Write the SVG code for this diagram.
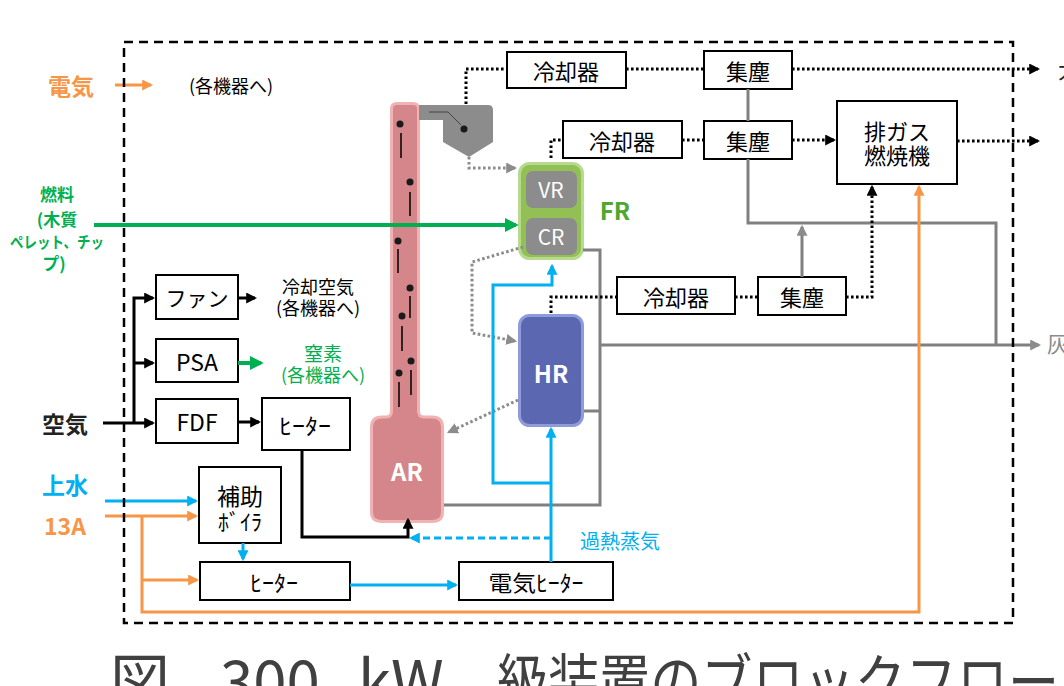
<svg xmlns="http://www.w3.org/2000/svg" width="1064" height="686" viewBox="0 0 1064 686">
<style>
.t{font-family:"Noto Sans CJK JP","Noto Sans",sans-serif;text-anchor:middle;dominant-baseline:central}
.box{fill:#fff;stroke:#000;stroke-width:2}
.k{fill:none;stroke:#000;stroke-width:3}
.kd{fill:none;stroke:#000;stroke-width:3;stroke-dasharray:2.6 2.4}
.g{fill:none;stroke:#808080;stroke-width:3}
.gd{fill:none;stroke:#8c8c8c;stroke-width:3;stroke-dasharray:2.6 2.4}
.gr{fill:none;stroke:#00b050;stroke-width:4}
.o{fill:none;stroke:#f79646;stroke-width:3}
.b{fill:none;stroke:#00b0f0;stroke-width:3}
</style>
<defs>
<marker id="ak" viewBox="0 0 10 10" refX="8" refY="5" markerWidth="11" markerHeight="11" markerUnits="userSpaceOnUse" orient="auto"><path d="M0,0L10,5L0,10z" fill="#000"/></marker>
<marker id="ag" viewBox="0 0 10 10" refX="8" refY="5" markerWidth="11" markerHeight="11" markerUnits="userSpaceOnUse" orient="auto"><path d="M0,0L10,5L0,10z" fill="#8c8c8c"/></marker>
<marker id="agr" viewBox="0 0 10 10" refX="8" refY="5" markerWidth="14" markerHeight="14" markerUnits="userSpaceOnUse" orient="auto"><path d="M0,0L10,5L0,10z" fill="#00b050"/></marker>
<marker id="ao" viewBox="0 0 10 10" refX="8" refY="5" markerWidth="11" markerHeight="11" markerUnits="userSpaceOnUse" orient="auto"><path d="M0,0L10,5L0,10z" fill="#f79646"/></marker>
<marker id="ab" viewBox="0 0 10 10" refX="8" refY="5" markerWidth="11" markerHeight="11" markerUnits="userSpaceOnUse" orient="auto"><path d="M0,0L10,5L0,10z" fill="#00b0f0"/></marker>
</defs>
<rect width="1064" height="686" fill="#fff"/>

<g id="labels">
<text class="t" x="71" y="85" font-size="23" font-weight="bold" fill="#f79646">電気</text>
<text class="t" x="231" y="85" font-size="18" fill="#000">(各機器へ)</text>
<text class="t" x="57" y="193" font-size="17" font-weight="bold" fill="#00b050">燃料</text>
<text class="t" x="57" y="218" font-size="17" font-weight="bold" fill="#00b050">(木質</text>
<text class="t" x="57" y="241" font-size="16" font-weight="bold" fill="#00b050" textLength="94" lengthAdjust="spacingAndGlyphs">ペレット、チッ</text>
<text class="t" x="54" y="262" font-size="17" font-weight="bold" fill="#00b050">プ)</text>
<text class="t" x="65" y="423" font-size="23" font-weight="bold" fill="#222">空気</text>
<text class="t" x="65" y="484" font-size="23" font-weight="bold" fill="#00b0f0">上水</text>
<text class="t" x="65" y="525" font-size="23" font-weight="bold" fill="#f79646">13A</text>
<text class="t" x="318" y="286" font-size="18" fill="#000">冷却空気</text>
<text class="t" x="318" y="307" font-size="18" fill="#000">(各機器へ)</text>
<text class="t" x="323" y="352" font-size="19" fill="#00b050">窒素</text>
<text class="t" x="323" y="374" font-size="18" fill="#00b050">(各機器へ)</text>
<text class="t" x="620" y="540" font-size="20" fill="#00b0f0">過熱蒸気</text>
<text class="t" x="615" y="209" font-size="24" font-weight="bold" fill="#4ea72e">FR</text>
<text x="1047" y="352" font-size="22" fill="#8c8c8c" font-family="Noto Sans CJK JP,sans-serif">灰</text>
<text x="1058" y="78" font-size="22" fill="#222" font-family="Noto Sans CJK JP,sans-serif">大気</text>
</g>

<g id="AR">
<path d="M391.5,109 Q391.5,103.5 397,103.5 H413 Q418.5,103.5 418.5,109 V411 Q418.5,417 424,417 H432 Q442.5,417 442.5,427 V512 Q442.5,521.5 432,521.5 H382 Q371.5,521.5 371.5,512 V427 Q371.5,417 382,417 H386 Q391.5,417 391.5,411 Z" fill="#d4868a" stroke="#f0b2b2" stroke-width="3"/>
<g fill="#1a1a1a">
<circle cx="400" cy="124" r="3.5"/><circle cx="410" cy="182" r="3.5"/><circle cx="398" cy="241" r="3.5"/>
<circle cx="410" cy="288" r="3.5"/><circle cx="402" cy="316" r="3.5"/><circle cx="411" cy="361" r="3.5"/><circle cx="399" cy="373" r="3.5"/>
</g>
<g stroke="#000" stroke-width="1.5">
<path d="M401,133V158M410,192V216M398,249V273M410,296V318M402,326V351M411,370V395M399,382V407"/>
</g>
<text class="t" x="407" y="470" font-size="24" font-weight="bold" fill="#fff">AR</text>
</g>

<g id="cyclone">
<path d="M419,105 H488 Q493,105 493,110 V142 L469,157 L443,142 V120 H419 Z" fill="#8c8c8c"/>
<path d="M429,112 H448 L461,125" fill="none" stroke="#444" stroke-width="1"/>
<circle cx="464" cy="129" r="3.5" fill="#1a1a1a"/>
</g>

<g id="FR">
<rect x="519.5" y="163.5" width="63" height="95" rx="10" fill="#92c055" stroke="#b7da8e" stroke-width="3"/>
<rect x="526" y="171" width="51" height="37" rx="7" fill="#8c8c8c"/>
<rect x="526" y="218" width="51" height="37" rx="7" fill="#8c8c8c"/>
<text class="t" x="551" y="189" font-size="21" fill="#fff">VR</text>
<text class="t" x="551" y="236" font-size="21" fill="#fff">CR</text>
</g>

<g id="HR">
<rect x="519.5" y="315.5" width="63" height="110" rx="10" fill="#5b67b0" stroke="#8f9ada" stroke-width="3"/>
<text class="t" x="551" y="372" font-size="24" font-weight="bold" fill="#fff">HR</text>
</g>

<g id="cooler1"><rect class="box" x="507" y="52" width="119" height="36"/><text class="t" x="566" y="70" font-size="22">冷却器</text></g>
<g id="dust1"><rect class="box" x="704" y="51" width="88" height="38"/><text class="t" x="748" y="70" font-size="22">集塵</text></g>
<g id="cooler2"><rect class="box" x="563" y="121" width="119" height="37"/><text class="t" x="622" y="140" font-size="22">冷却器</text></g>
<g id="dust2"><rect class="box" x="704" y="121" width="88" height="38"/><text class="t" x="748" y="140" font-size="22">集塵</text></g>
<g id="burner"><rect class="box" x="837" y="101" width="120" height="83"/><text class="t" x="897" y="130" font-size="22">排ガス</text><text class="t" x="897" y="154" font-size="22">燃焼機</text></g>
<g id="cooler3"><rect class="box" x="617" y="277" width="118" height="37"/><text class="t" x="676" y="296" font-size="22">冷却器</text></g>
<g id="dust3"><rect class="box" x="758" y="277" width="88" height="38"/><text class="t" x="802" y="296" font-size="22">集塵</text></g>
<g id="fan"><rect class="box" x="156" y="275" width="82" height="44"/><text class="t" x="197" y="297" font-size="21">ファン</text></g>
<g id="psa"><rect class="box" x="156" y="339" width="82" height="43"/><text class="t" x="197" y="361" font-size="23">PSA</text></g>
<g id="fdf"><rect class="box" x="156" y="399" width="82" height="44"/><text class="t" x="197" y="421" font-size="23">FDF</text></g>
<g id="heater1"><rect class="box" x="262" y="398" width="88" height="52"/><text class="t" x="305" y="424" font-size="22" textLength="52" lengthAdjust="spacingAndGlyphs">ﾋｰﾀｰ</text></g>
<g id="boiler"><rect class="box" x="199" y="467" width="82" height="76"/><text class="t" x="240" y="495" font-size="23">補助</text><text class="t" x="240" y="520" font-size="22" textLength="44" lengthAdjust="spacingAndGlyphs">ﾎﾞｲﾗ</text></g>
<g id="heater2"><rect class="box" x="200" y="562" width="150" height="38"/><text class="t" x="274" y="581" font-size="22" textLength="48" lengthAdjust="spacingAndGlyphs">ﾋｰﾀｰ</text></g>
<g id="eheater"><rect class="box" x="459" y="562" width="154" height="38"/><text class="t" x="536" y="581" font-size="22" textLength="95" lengthAdjust="spacingAndGlyphs">電気ﾋｰﾀｰ</text></g>

<g id="connectors">
<path class="g" d="M748,89V121"/>
<path class="g" d="M748,159V223H996V345"/>
<path class="g" d="M802,277V227" marker-end="url(#ag)"/>
<path class="g" d="M444,505H600V250H583"/>
<path class="g" d="M584,411H600"/>
<path class="g" d="M600,345H1039" marker-end="url(#ag)"/>

<path class="gd" d="M469,157V168H515" marker-end="url(#ag)"/>
<path class="gd" d="M523,247L472,262V333L515,341" marker-end="url(#ag)"/>
<path class="gd" d="M518,400L449,432" marker-end="url(#ag)"/>

<path class="kd" d="M466,104V69H507"/>
<path class="kd" d="M626,69H704"/>
<path class="kd" d="M792,69H1038" marker-end="url(#ak)"/>
<path class="kd" d="M551,158V140H563"/>
<path class="kd" d="M682,140H704"/>
<path class="kd" d="M792,140H834" marker-end="url(#ak)"/>
<path class="kd" d="M957,141H1038" marker-end="url(#ak)"/>
<path class="kd" d="M551,313V297H617"/>
<path class="kd" d="M735,297H758"/>
<path class="kd" d="M846,297H872V187" marker-end="url(#ak)"/>

<path class="k" d="M103,423H153" marker-end="url(#ak)"/>
<path class="k" d="M134,423V298H153" marker-end="url(#ak)"/>
<path class="k" d="M134,363H153" marker-end="url(#ak)"/>
<path class="k" d="M238,298H255" marker-end="url(#ak)"/>
<path class="k" d="M238,422H259" marker-end="url(#ak)"/>
<path class="k" d="M302,450V537H408V520" marker-end="url(#ak)"/>

<path class="gr" d="M94,225H516" marker-end="url(#agr)"/>
<path class="gr" d="M238,363H261" stroke-width="3" marker-end="url(#agr)"/>

<path class="o" d="M115,85H151" marker-end="url(#ao)"/>
<path class="o" d="M105,516H196" marker-end="url(#ao)"/>
<path class="o" d="M142,516V612H919V187" marker-end="url(#ao)"/>
<path class="o" d="M142,580H197" marker-end="url(#ao)"/>

<path class="b" d="M105,501H196" marker-end="url(#ab)"/>
<path class="b" d="M243,543V559" marker-end="url(#ab)"/>
<path class="b" d="M350,585H456" marker-end="url(#ab)"/>
<path class="b" d="M551,562V429" marker-end="url(#ab)"/>
<path class="b" d="M551,483H493V285H552V266" marker-end="url(#ab)"/>
<path class="b" d="M551,538H411" stroke-dasharray="7 4" marker-end="url(#ab)"/>
</g>

<rect id="boundary" x="124" y="42" width="889" height="581" fill="none" stroke="#000" stroke-width="2.5" stroke-dasharray="9 6"/>

<g id="title" font-family="Noto Sans CJK JP,sans-serif" font-size="60" fill="#404040">
<text x="110" y="704">図</text>
<text x="220" y="704">300</text>
<text x="358" y="704">kW</text>
<text x="497" y="704" textLength="562" lengthAdjust="spacingAndGlyphs">級装置のブロックフロー</text>
</g>
</svg>
